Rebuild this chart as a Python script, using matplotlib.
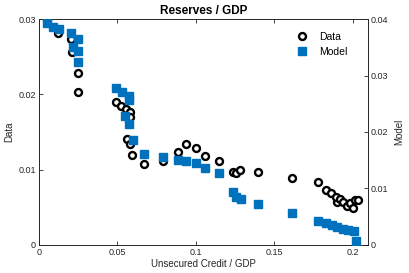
import matplotlib
matplotlib.use("Agg")
import matplotlib.pyplot as plt
from matplotlib.lines import Line2D

plt.rcParams['font.family'] = ['Liberation Sans', 'DejaVu Sans']

title = "Reserves / GDP"
xlabel = "Unsecured Credit / GDP"
left_label = "Data"
right_label = "Model"

data_x = [0.0051, 0.0121, 0.0202, 0.0210, 0.0248, 0.0248, 0.0494, 0.0525, 0.0557,
          0.0580, 0.0580, 0.0561, 0.0580, 0.0594, 0.0669, 0.0788, 0.0887, 0.0936,
          0.1000, 0.1057, 0.1148, 0.1238, 0.1255, 0.1280, 0.1397, 0.1610, 0.1775,
          0.1831, 0.1857, 0.1896, 0.1892, 0.1917, 0.1938, 0.1960, 0.1981, 0.1998,
          0.2013, 0.2030]
data_y = [0.0299, 0.0281, 0.0274, 0.0256, 0.0228, 0.0203, 0.0190, 0.0185, 0.0181,
          0.0177, 0.0170, 0.0141, 0.0134, 0.0120, 0.0108, 0.0111, 0.0124, 0.0134,
          0.0129, 0.0118, 0.0112, 0.0097, 0.0096, 0.0100, 0.0097, 0.0089, 0.0083,
          0.0073, 0.0069, 0.0057, 0.0064, 0.0061, 0.0057, 0.0051, 0.0055, 0.0049,
          0.0060, 0.0060]

model_x = [0.0051, 0.0087, 0.0127, 0.0202, 0.0248, 0.0217, 0.0248, 0.0248, 0.0494,
           0.0532, 0.0576, 0.0576, 0.0551, 0.0576, 0.0597, 0.0669, 0.0788, 0.0887,
           0.0936, 0.1000, 0.1057, 0.1148, 0.1238, 0.1255, 0.1287, 0.1397, 0.1610,
           0.1775, 0.1828, 0.1864, 0.1896, 0.1934, 0.1970, 0.2006, 0.2017]
model_y = [0.0393, 0.0386, 0.0382, 0.0375, 0.0365, 0.0351, 0.0343, 0.0324, 0.0278,
           0.0271, 0.0264, 0.0257, 0.0229, 0.0215, 0.0185, 0.0161, 0.0156, 0.0150,
           0.0149, 0.0145, 0.0136, 0.0127, 0.0094, 0.0085, 0.0081, 0.0073, 0.0056,
           0.0043, 0.0038, 0.0035, 0.0032, 0.0029, 0.0027, 0.0025, 0.0006]

x_ticks = [0, 0.05, 0.1, 0.15, 0.2]
x_ticklabels = ["0", "0.05", "0.1", "0.15", "0.2"]
left_ticks = [0, 0.01, 0.02, 0.03]
left_ticklabels = ["0", "0.01", "0.02", "0.03"]
right_ticks = [0, 0.01, 0.02, 0.03, 0.04]
right_ticklabels = ["0", "0.01", "0.02", "0.03", "0.04"]

blue = "#0072BD"
axcol = "#262626"

fig = plt.figure(figsize=(4.09, 2.73), dpi=100)
ax = fig.add_axes([0.095, 0.103, 0.805, 0.827])
ax2 = ax.twinx()

ax.plot(data_x, data_y, linestyle='none', marker='o', markersize=5,
        markerfacecolor='white', markeredgecolor='black', markeredgewidth=1.7, zorder=3)
ax2.plot(model_x, model_y, linestyle='none', marker='s', markersize=5.5,
         color=blue, markeredgecolor=blue, zorder=3)

ax.set_xlim(0, 0.2096)
ax.set_ylim(0, 0.03)
ax2.set_ylim(0, 0.04)

ax.set_xticks(x_ticks)
ax.set_xticklabels(x_ticklabels)
ax.set_yticks(left_ticks)
ax.set_yticklabels(left_ticklabels)
ax2.set_yticks(right_ticks)
ax2.set_yticklabels(right_ticklabels)

for a in (ax, ax2):
    a.tick_params(direction='in', length=3, width=0.6, labelsize=6.5,
                  colors=axcol, pad=2)
    for s in a.spines.values():
        s.set_linewidth(0.6)
        s.set_color(axcol)
ax.tick_params(axis='x', top=True)

ax.set_xlabel(xlabel, fontsize=7, color=axcol, labelpad=2)
ax.set_ylabel(left_label, fontsize=7, color=axcol, labelpad=3)
ax2.set_ylabel(right_label, fontsize=7, color=axcol, labelpad=4)
ax.set_title(title, fontsize=8.5, fontweight='bold', pad=4)

handles = [Line2D([], [], linestyle='none', marker='o', markersize=5,
                  markerfacecolor='white', markeredgecolor='black', markeredgewidth=1.7),
           Line2D([], [], linestyle='none', marker='s', markersize=5.5, color=blue)]
leg = ax2.legend(handles, ["Data", "Model"], loc='upper right', frameon=False,
                 fontsize=7.5, handletextpad=0.7, borderaxespad=0.6,
                 bbox_to_anchor=(0.97, 0.99))

fig.savefig("out.png", dpi=100)
